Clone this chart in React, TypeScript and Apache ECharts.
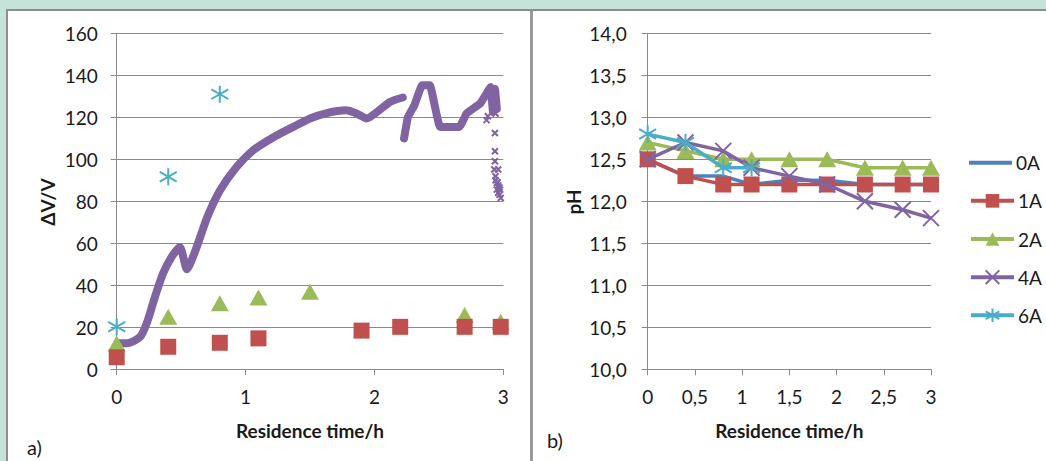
import React, { useEffect, useRef } from "react";
import * as echarts from "echarts";

// ---- Panel a) : ΔV/V versus residence time ----
const dvTime1A = [0, 0.4, 0.8, 1.1, 1.9, 2.2, 2.7, 2.98];
const dv1A = [5.6, 10.6, 12.5, 14.6, 18.3, 20.1, 20.1, 20.1];
const dvTime2A = [0, 0.4, 0.8, 1.1, 1.5, 2.7, 2.98];
const dv2A = [12.2, 24.9, 31.3, 34.1, 36.8, 25.7, 22.5];
const dvTime6A = [0, 0.4, 0.8];
const dv6A = [20.1, 91.6, 131];

// 4A continuous record (two segments) and scattered tail points
const dv4ATimeSeg1 = [0.01, 0.08, 0.13, 0.19, 0.24, 0.295, 0.36, 0.43, 0.49, 0.545, 0.62, 0.7, 0.8, 0.93, 1.06, 1.22, 1.37, 1.5, 1.63, 1.78, 1.86, 1.94, 2.02, 2.12, 2.22];
const dv4ASeg1 = [12.3, 12.3, 13.2, 16, 23, 34, 45.6, 53.8, 58.2, 47.5, 58, 72, 85, 96.3, 104.3, 110.6, 115.4, 119.4, 122, 123.3, 121.8, 119.4, 122.5, 127.3, 129.4];
const dv4ATimeSeg2 = [2.23, 2.26, 2.31, 2.37, 2.43, 2.47, 2.51, 2.61, 2.66, 2.715, 2.82, 2.87, 2.9, 2.92, 2.935, 2.95];
const dv4ASeg2 = [109.9, 120.1, 125.7, 135.2, 135.2, 124.9, 115.4, 115.4, 115.4, 121.8, 126.5, 131.3, 134.4, 122.5, 133.5, 124];
const dv4ATailTime = [2.87, 2.88, 2.94, 2.94, 2.935, 2.935, 2.935, 2.96, 2.94, 2.93, 2.94, 2.95, 2.96, 2.97, 2.95, 2.96, 2.97, 2.98, 2.955, 2.975];
const dv4ATail = [118.6, 120.5, 125.7, 121.8, 112.5, 103.8, 99, 95.1, 91.9, 95.1, 90, 88.5, 87.5, 86.5, 85.5, 84, 83, 81.5, 89, 85.5];

// ---- Panel b) : pH versus residence time ----
const phTime = [0, 0.4, 0.8, 1.1, 1.5, 1.9, 2.3, 2.7, 3];
const ph0A = [12.5, 12.3, 12.3, 12.2, 12.25, 12.25, 12.2, 12.2, 12.2];
const ph1A = [12.5, 12.3, 12.2, 12.2, 12.2, 12.2, 12.2, 12.2, 12.2];
const ph2A = [12.7, 12.6, 12.5, 12.5, 12.5, 12.5, 12.4, 12.4, 12.4];
const ph4A = [12.5, 12.7, 12.6, 12.4, 12.3, 12.2, 12.0, 11.9, 11.8];
const ph6A = [12.8, 12.7, 12.4, 12.4];
const legendNames = ["0A", "1A", "2A", "4A", "6A"];

const BLUE = "#4F81BD";
const RED = "#C0504D";
const GREEN = "#9BBB59";
const PURPLE = "#8064A2";
const CYAN = "#4BACC6";
const GRID = "#8A8A8A";
const TXT = "#1a1a1a";
const FONT = "Lato, 'Open Sans', sans-serif";

const zip = (xs: number[], ys: number[]) => xs.map((x, i) => [x, ys[i]]);

const XSYM = "path://M0 0 L14 14 M0 14 L14 0";
const STAR = "path://M7 0 L7 14 M0.5 3 L13.5 11 M0.5 11 L13.5 3";
const BAR = "path://M0 0 L43 0 L43 4 L0 4 Z";

const commaFmt = (d: number) => (v: number) => v.toFixed(d).replace(".", ",");

function axisCommon() {
  return {
    axisLine: { show: true, lineStyle: { color: GRID, width: 1 } },
    axisTick: { show: true, length: 6, lineStyle: { color: GRID } },
    splitLine: { show: false },
  };
}

function buildOption(): any {
  const labelStyle = { color: TXT, fontSize: 19, fontFamily: FONT };
  return {
    animation: false,
    backgroundColor: "#C5E3D8",
    grid: [
      { left: 116.7, right: 1046 - 503.3, top: 33.3, bottom: 461 - 369 },
      { left: 647.7, right: 1046 - 931, top: 33.3, bottom: 461 - 369.3 },
    ],
    xAxis: [
      {
        gridIndex: 0, type: "value", min: 0, max: 3, interval: 1,
        ...axisCommon(),
        axisLabel: { ...labelStyle, margin: 18 },
      },
      {
        gridIndex: 1, type: "value", min: 0, max: 3, interval: 0.5,
        ...axisCommon(),
        axisLabel: { ...labelStyle, margin: 18, formatter: (v: number) => String(v).replace(".", ",") },
      },
    ],
    yAxis: [
      {
        gridIndex: 0, type: "value", min: 0, max: 160, interval: 20,
        ...axisCommon(),
        splitLine: { show: true, lineStyle: { color: GRID, width: 1 } },
        axisLabel: { ...labelStyle, margin: 19 },
      },
      {
        gridIndex: 1, type: "value", min: 10, max: 14, interval: 0.5,
        ...axisCommon(),
        splitLine: { show: true, lineStyle: { color: GRID, width: 1 } },
        axisLabel: { ...labelStyle, margin: 21, formatter: commaFmt(1) },
      },
    ],
    legend: legendNames.map((n, i) => ({
      data: i === 0 ? [{ name: n, icon: BAR }] : [n],
      orient: "vertical",
      left: 969,
      top: 162.7 + i * 38.15 - 9.5,
      padding: 0,
      itemWidth: 43,
      itemHeight: i === 0 ? 4 : 17,
      itemGap: 0,
      selectedMode: false,
      lineStyle: { width: 4 },
      textStyle: { fontSize: 19, color: TXT, fontFamily: FONT, padding: [0, 0, 0, -1] },
    })),
    graphic: [
      { type: "rect", z: -100, shape: { x: 6, y: 9, width: 1040, height: 452 }, style: { fill: "#8E8E8E" }, silent: true },
      { type: "rect", z: -99, shape: { x: 8, y: 11, width: 1038, height: 450 }, style: { fill: "#FFFFFF" }, silent: true },
      { type: "rect", z: -98, shape: { x: 530, y: 11, width: 3, height: 450 }, style: { fill: "#9A9A9A" }, silent: true },
      { type: "text", z: 100, x: 47, y: 202, rotation: Math.PI / 2, style: { text: "ΔV/V", fill: TXT, font: `bold 19px ${FONT}`, align: "center", verticalAlign: "middle" } },
      { type: "text", z: 100, x: 573, y: 202, rotation: Math.PI / 2, style: { text: "pH", fill: TXT, font: `bold 19px ${FONT}`, align: "center", verticalAlign: "middle" } },
      { type: "text", z: 100, x: 310, y: 430, style: { text: "Residence time/h", fill: TXT, font: `bold 19px ${FONT}`, align: "center", verticalAlign: "middle" } },
      { type: "text", z: 100, x: 789.3, y: 430, style: { text: "Residence time/h", fill: TXT, font: `bold 19px ${FONT}`, align: "center", verticalAlign: "middle" } },
      { type: "text", z: 100, x: 27, y: 446.5, style: { text: "a)", fill: TXT, font: `20px ${FONT}`, align: "left", verticalAlign: "middle" } },
      { type: "text", z: 100, x: 547, y: 440, style: { text: "b)", fill: TXT, font: `20px ${FONT}`, align: "left", verticalAlign: "middle" } },
    ],
    series: [
      // ---- left panel ----
      {
        type: "line", xAxisIndex: 0, yAxisIndex: 0, name: "a4A-1",
        data: zip(dv4ATimeSeg1, dv4ASeg1), symbol: "none", smooth: 0.2,
        lineStyle: { color: PURPLE, width: 8, cap: "round", join: "round" }, z: 2,
      },
      {
        type: "line", xAxisIndex: 0, yAxisIndex: 0, name: "a4A-2",
        data: zip(dv4ATimeSeg2, dv4ASeg2), symbol: "none", smooth: 0.1,
        lineStyle: { color: PURPLE, width: 8, cap: "round", join: "round" }, z: 2,
      },
      {
        type: "scatter", xAxisIndex: 0, yAxisIndex: 0, name: "a4A-tail",
        data: zip(dv4ATailTime, dv4ATail), symbol: XSYM, symbolSize: 6,
        itemStyle: { color: "none", borderColor: PURPLE, borderWidth: 2, opacity: 1 }, z: 2,
      },
      {
        type: "scatter", xAxisIndex: 0, yAxisIndex: 0, name: "a2A",
        data: zip(dvTime2A, dv2A), symbol: "triangle", symbolSize: [18, 16],
        itemStyle: { color: GREEN, opacity: 1 }, z: 3,
      },
      {
        type: "scatter", xAxisIndex: 0, yAxisIndex: 0, name: "a1A",
        data: zip(dvTime1A, dv1A), symbol: "rect", symbolSize: 16,
        itemStyle: { color: RED, opacity: 1 }, z: 4,
      },
      {
        type: "scatter", xAxisIndex: 0, yAxisIndex: 0, name: "a6A",
        data: zip(dvTime6A, dv6A), symbol: STAR, symbolSize: 17,
        itemStyle: { color: "none", borderColor: CYAN, borderWidth: 2, opacity: 1 }, z: 5,
      },
      // ---- right panel ----
      {
        type: "line", xAxisIndex: 1, yAxisIndex: 1, name: "0A",
        data: zip(phTime, ph0A), symbol: "none",
        lineStyle: { color: BLUE, width: 3.5 }, itemStyle: { color: BLUE }, z: 2,
      },
      {
        type: "line", xAxisIndex: 1, yAxisIndex: 1, name: "1A",
        data: zip(phTime, ph1A), symbol: "rect", symbolSize: 16,
        lineStyle: { color: RED, width: 3.5 }, itemStyle: { color: RED }, z: 3,
      },
      {
        type: "line", xAxisIndex: 1, yAxisIndex: 1, name: "2A",
        data: zip(phTime, ph2A), symbol: "triangle", symbolSize: [18, 16],
        lineStyle: { color: GREEN, width: 3.5 }, itemStyle: { color: GREEN }, z: 4,
      },
      {
        type: "line", xAxisIndex: 1, yAxisIndex: 1, name: "4A",
        data: zip(phTime, ph4A), symbol: XSYM, symbolSize: 16,
        lineStyle: { color: PURPLE, width: 3.5 },
        itemStyle: { color: "none", borderColor: PURPLE, borderWidth: 2 }, z: 5,
      },
      {
        type: "line", xAxisIndex: 1, yAxisIndex: 1, name: "6A",
        data: zip(phTime.slice(0, ph6A.length), ph6A), symbol: STAR, symbolSize: 17,
        lineStyle: { color: CYAN, width: 3.5 },
        itemStyle: { color: "none", borderColor: CYAN, borderWidth: 2 }, z: 6,
      },
    ],
  };
}

export default function App() {
  const ref = useRef<HTMLDivElement>(null);
  useEffect(() => {
    const chart = echarts.init(ref.current as HTMLDivElement, null, { renderer: "svg" });
    chart.setOption(buildOption());
    return () => chart.dispose();
  }, []);
  return (
    <div
      ref={ref}
      style={{ position: "fixed", left: 0, top: 0, width: 1046, height: 461 }}
    />
  );
}
